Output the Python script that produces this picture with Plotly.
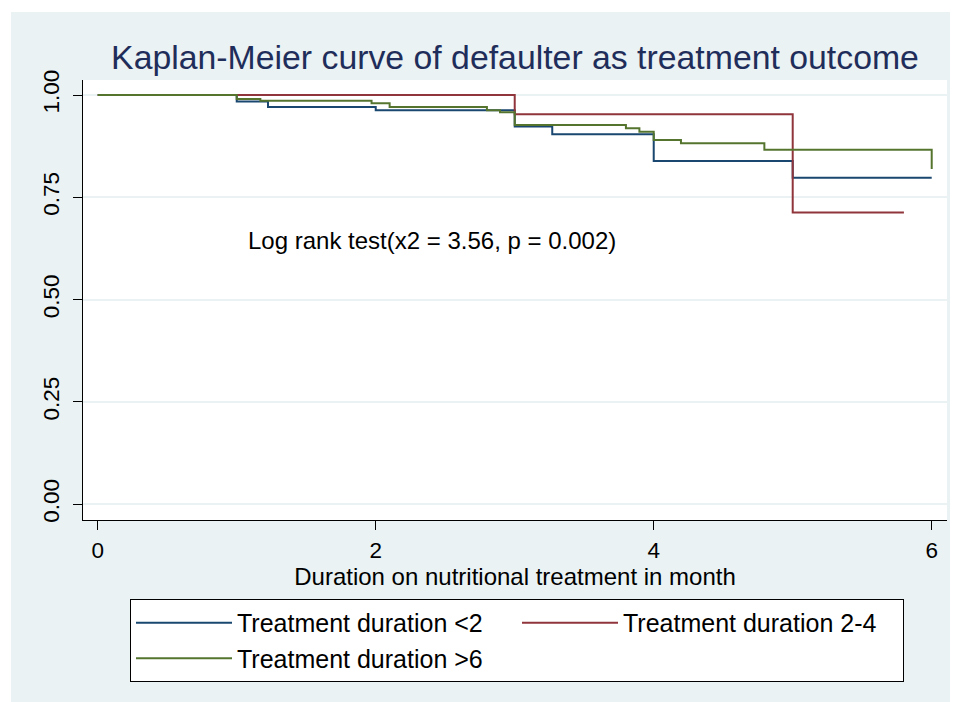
import plotly.graph_objects as go

# Kaplan-Meier step data (time in months, survival probability)
t_lt2 = [0, 1.0, 1.225, 2.0, 3.0, 3.27, 4.0, 5.0, 6.0]
s_lt2 = [1.0, 0.984, 0.971, 0.963, 0.923, 0.904, 0.839, 0.798, 0.798]

t_2_4 = [0, 3.0, 5.0, 5.8]
s_2_4 = [1.0, 0.953, 0.713, 0.713]

t_gt6 = [0, 1.0, 1.17, 1.97, 2.10, 2.80, 2.894, 3.0, 3.80, 3.897, 4.0, 4.196, 4.796, 6.0, 6.0]
s_gt6 = [1.0, 0.99, 0.986, 0.980, 0.971, 0.963, 0.958, 0.927, 0.919, 0.910, 0.890, 0.882, 0.866, 0.866, 0.819]

names = ["Treatment duration <2", "Treatment duration 2-4", "Treatment duration >6"]
colors = ["#1a476f", "#90353b", "#55752f"]

x_ticks = [0, 2, 4, 6]
y_ticks = [0, 0.25, 0.5, 0.75, 1.0]

FONT = "Liberation Sans, Arial, sans-serif"

fig = go.Figure()
for t, s, n, c in zip([t_lt2, t_2_4, t_gt6], [s_lt2, s_2_4, s_gt6], names, colors):
    fig.add_trace(go.Scatter(x=t, y=s, mode="lines", name=n,
                             line=dict(color=c, width=2, shape="hv")))

fig.add_annotation(x=1.067, y=0.645, xref="x", yref="y", xanchor="left", yanchor="middle",
                   text="Log rank test(x2 = 3.56, p = 0.002)", showarrow=False,
                   font=dict(size=24, color="black", family=FONT))

W, H = 950, 694
fig.update_layout(
    width=W, height=H,
    margin=dict(l=75, r=11, t=72, b=182, pad=0),
    paper_bgcolor="white", plot_bgcolor="white",
    font=dict(family=FONT, color="black"),
    title=dict(text="Kaplan-Meier curve of defaulter as treatment outcome",
               x=0.5, xref="paper", y=1 - 49 / H, yref="container",
               xanchor="center", yanchor="middle",
               font=dict(size=33.8, color="#1f2d5a", family=FONT)),
    shapes=[
        dict(type="rect", xref="paper", yref="paper", x0=-0.0833, x1=1.02, y0=-0.42, y1=1.1545,
             fillcolor="#eaf2f3", line=dict(width=0), layer="below"),
        dict(type="rect", xref="paper", yref="paper", x0=0, x1=1, y0=0, y1=1,
             fillcolor="white", line=dict(width=0), layer="below"),
    ],
    legend=dict(orientation="h", x=0.0544, y=-0.1795, xanchor="left", yanchor="top",
                bgcolor="white", bordercolor="black", borderwidth=1,
                entrywidth=275, entrywidthmode="pixels", itemwidth=96,
                font=dict(size=25, family=FONT, color="black")),
    showlegend=True,
)

fig.update_xaxes(range=[-0.106, 6.11], tickvals=x_ticks, ticktext=[str(v) for v in x_ticks],
                 showgrid=False, zeroline=False, showline=True, linecolor="black", linewidth=1,
                 ticks="outside", ticklen=9, tickcolor="black", ticklabelstandoff=1,
                 tickfont=dict(size=22.5),
                 title=dict(text="Duration on nutritional treatment in month", font=dict(size=24), standoff=0))
fig.update_yaxes(range=[-0.0384, 1.0367], tickvals=y_ticks, tickformat=".2f",
                 showgrid=True, gridcolor="#eaf2f3", gridwidth=1.5, zeroline=False,
                 showline=True, linecolor="black", linewidth=1,
                 ticks="outside", ticklen=9, tickcolor="black", tickangle=-90,
                 ticklabelstandoff=5, tickfont=dict(size=22.5))

fig.write_html("out.html")
